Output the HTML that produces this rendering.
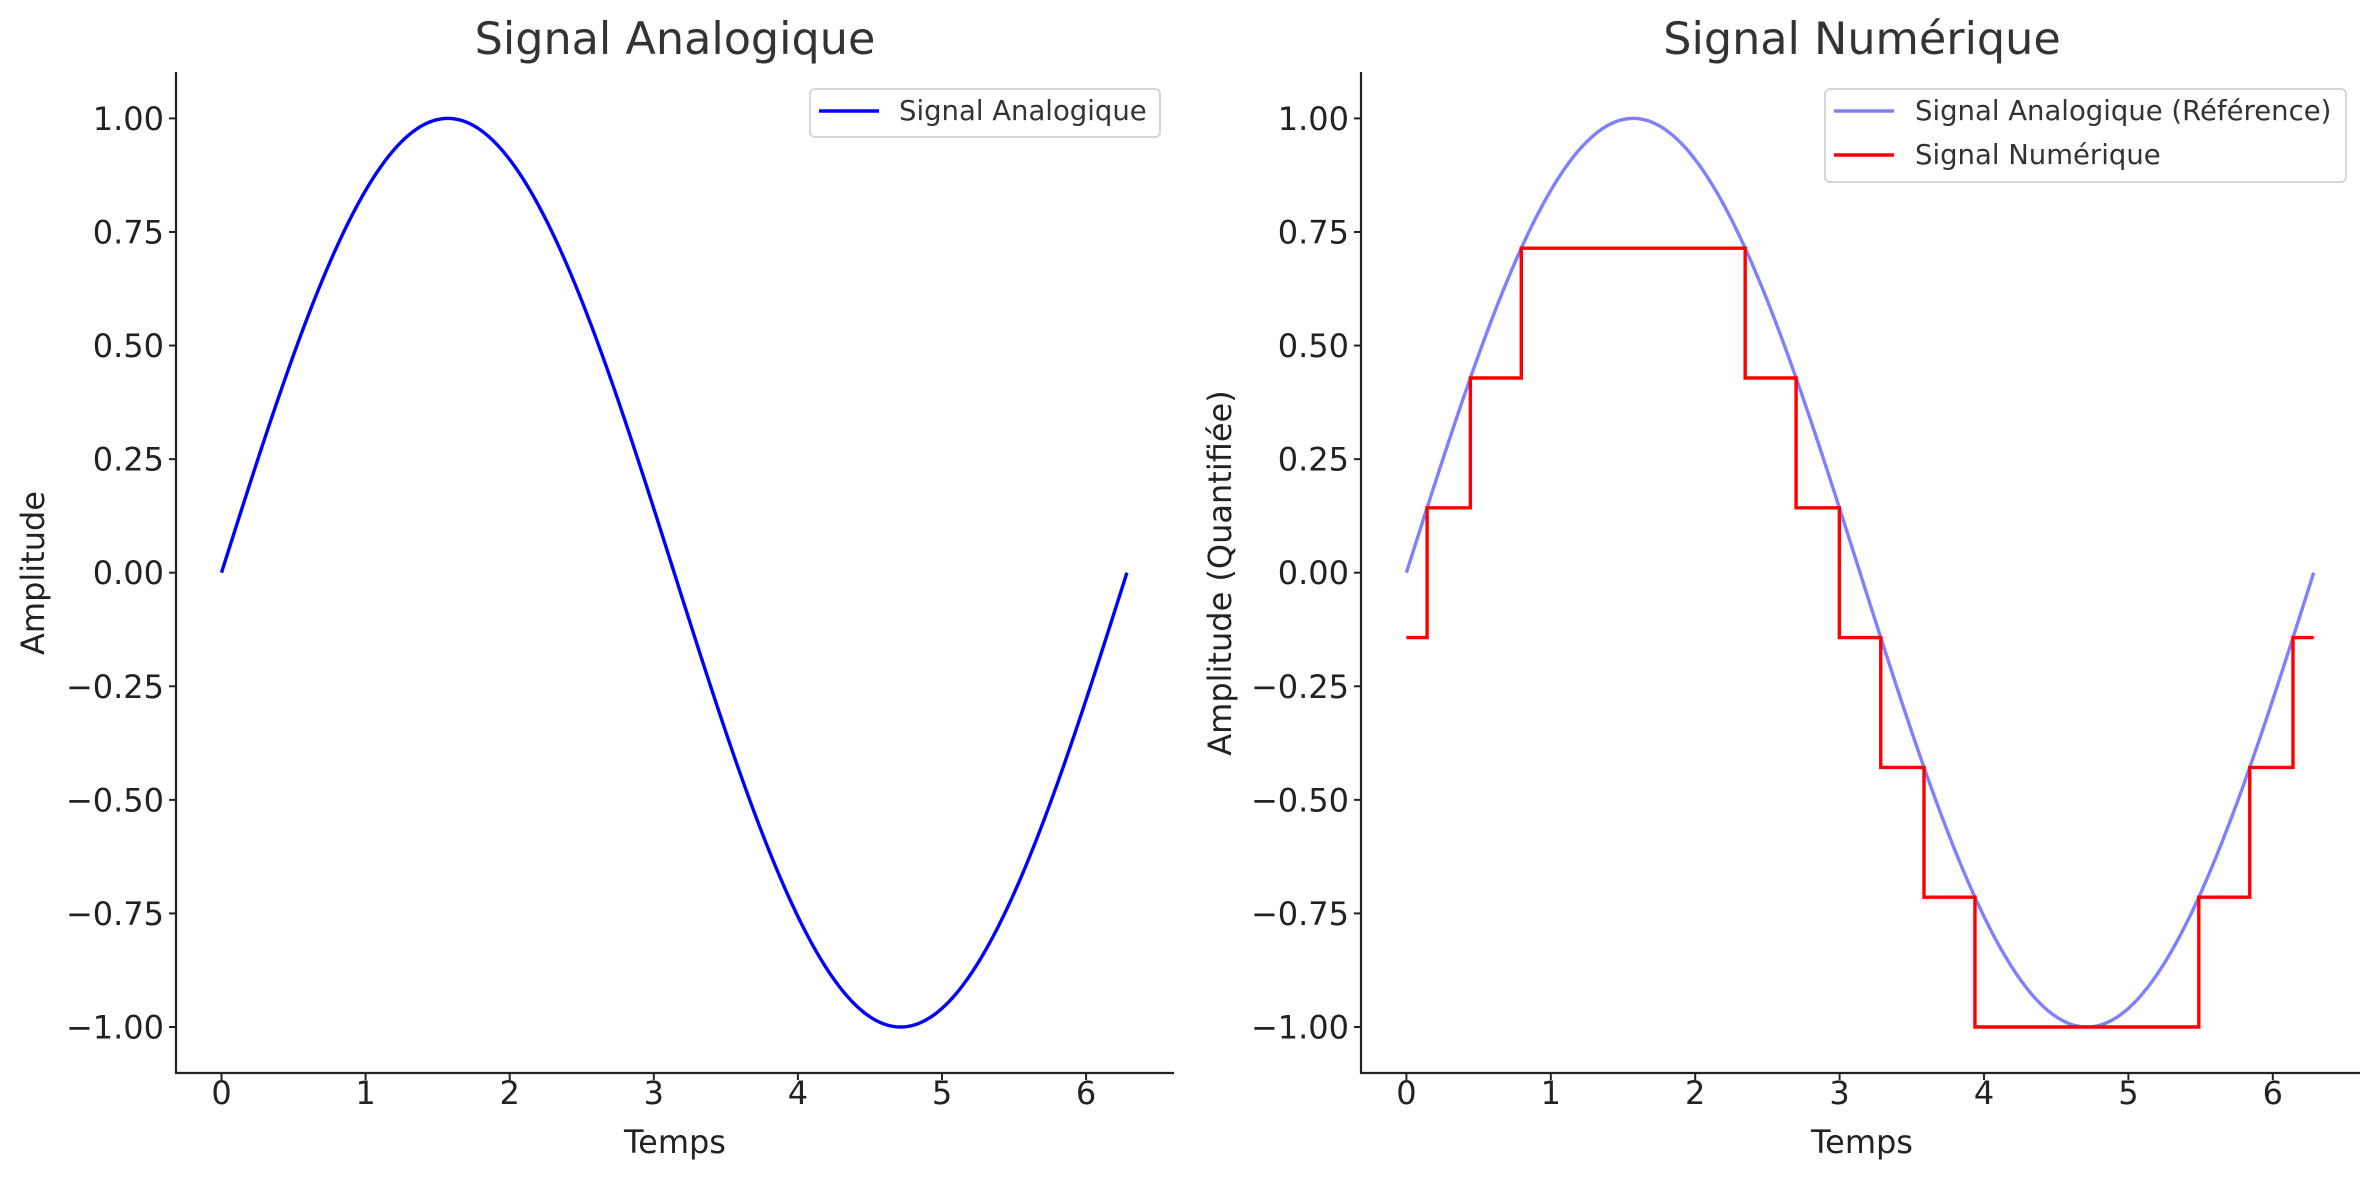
<!DOCTYPE html>
<html><head><meta charset="utf-8"><style>
html,body{margin:0;padding:0;background:#fff;}
svg{display:block;font-family:"DejaVu Sans","Liberation Sans",sans-serif;}
</style></head><body>
<svg id="s" width="2379" height="1180" viewBox="0 0 2379 1180" xmlns="http://www.w3.org/2000/svg">
<rect width="2379" height="1180" fill="#fff"/>
<text x="675" y="54" font-size="44.5" fill="#333" text-anchor="middle">Signal Analogique</text>
<text x="1862" y="54" font-size="44.5" fill="#333" text-anchor="middle">Signal Numérique</text>

<g stroke="#222" stroke-width="2.2" fill="none">
<line x1="176" y1="72" x2="176" y2="1073"/>
<line x1="175" y1="1073" x2="1174" y2="1073"/>
<line x1="1361" y1="72" x2="1361" y2="1073"/>
<line x1="1360" y1="1073" x2="2360" y2="1073"/>
</g>
<g id="ticks" stroke="#222" stroke-width="2"></g>
<g id="labels" font-size="32" fill="#222"></g>

<text x="675" y="1153" font-size="32" fill="#222" text-anchor="middle">Temps</text>
<text x="1862" y="1153" font-size="32" fill="#222" text-anchor="middle">Temps</text>
<text transform="translate(44,573) rotate(-90)" font-size="32" fill="#222" text-anchor="middle">Amplitude</text>
<text transform="translate(1231,573) rotate(-90)" font-size="32" fill="#222" text-anchor="middle">Amplitude (Quantifiée)</text>

<path id="sinL" fill="none" stroke="#0000ff" stroke-width="3.4"/>
<path id="sinR" fill="none" stroke="#8080ff" stroke-width="3.4"/>
<path id="stepR" fill="none" stroke="#ff0000" stroke-width="3.4"/>

<rect x="810" y="89" width="350" height="48" rx="5" fill="#fff" fill-opacity="0.8" stroke="#d6d6d6" stroke-width="2"/>
<line x1="819" y1="111" x2="879" y2="111" stroke="#0000ff" stroke-width="3.4"/>
<text x="899" y="120" font-size="27.5" fill="#333">Signal Analogique</text>

<rect x="1825" y="89" width="521" height="93" rx="5" fill="#fff" fill-opacity="0.8" stroke="#d6d6d6" stroke-width="2"/>
<line x1="1834" y1="111" x2="1894" y2="111" stroke="#8080ff" stroke-width="3.4"/>
<text x="1915" y="120" font-size="27.5" fill="#333">Signal Analogique (Référence)</text>
<line x1="1834" y1="155" x2="1894" y2="155" stroke="#ff0000" stroke-width="3.4"/>
<text x="1915" y="164" font-size="27.5" fill="#333">Signal Numérique</text>
</svg>
<script>
(function(){
var NS="http://www.w3.org/2000/svg";
function Y(y){return 572.7-454.3*y;}
function XL(x){return 221.5+144.1*x;}
function XR(x){return 1406.4+144.4*x;}
var tg=document.getElementById('ticks'),lg=document.getElementById('labels');
function el(p,tag,a,t){var e=document.createElementNS(NS,tag);for(var k in a)e.setAttribute(k,a[k]);if(t!=null)e.textContent=t;p.appendChild(e);}
var yt=[1,0.75,0.5,0.25,0,-0.25,-0.5,-0.75,-1];
[[176,XL,164],[1361,XR,1349]].forEach(function(p){
 yt.forEach(function(v){var y=Y(v);el(tg,'line',{x1:p[0]-7,y1:y,x2:p[0],y2:y});
  var s=(v<0?'\u2212':'')+Math.abs(v).toFixed(2);
  el(lg,'text',{x:p[2],y:y+11.5,'text-anchor':'end'},s);});
 for(var i=0;i<=6;i++){var x=p[1](i);el(tg,'line',{x1:x,y1:1073,x2:x,y2:1080});
  el(lg,'text',{x:x,y:1104,'text-anchor':'middle'},String(i));}
});
var a='',b='';
for(var i=0;i<=400;i++){var x=2*Math.PI*i/400,s=Math.sin(x);
 a+=(i?'L':'M')+XL(x).toFixed(2)+','+Y(s).toFixed(2);
 b+=(i?'L':'M')+XR(x).toFixed(2)+','+Y(s).toFixed(2);}
document.getElementById('sinL').setAttribute('d',a);
document.getElementById('sinR').setAttribute('d',b);
var P=Math.PI,a1=Math.asin(1/7),a3=Math.asin(3/7),a5=Math.asin(5/7);
var seg=[[0,-1/7],[a1,1/7],[a3,3/7],[a5,5/7],[P-a5,3/7],[P-a3,1/7],[P-a1,-1/7],[P+a1,-3/7],[P+a3,-5/7],[P+a5,-1],[2*P-a5,-5/7],[2*P-a3,-3/7],[2*P-a1,-1/7]];
var d='M'+XR(0)+','+Y(-1/7);
for(var k=1;k<seg.length;k++){d+='L'+XR(seg[k][0]).toFixed(2)+','+Y(seg[k-1][1]).toFixed(2)+'L'+XR(seg[k][0]).toFixed(2)+','+Y(seg[k][1]).toFixed(2);}
d+='L'+XR(2*P).toFixed(2)+','+Y(-1/7).toFixed(2);
document.getElementById('stepR').setAttribute('d',d);
})();
</script>
</body></html>
